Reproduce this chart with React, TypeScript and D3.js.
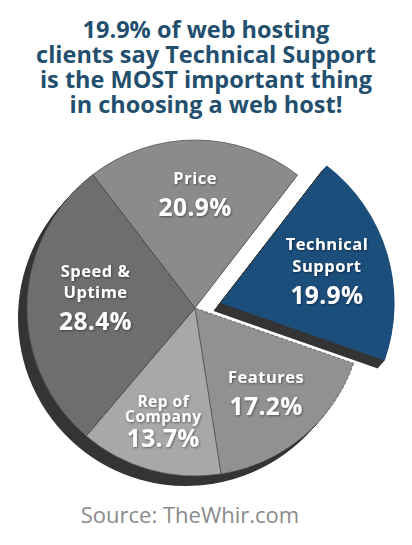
import React from "react";
import * as d3 from "d3";

// Survey results: what matters most when choosing a web host
const categories = ["Price", "Technical Support", "Features", "Rep of Company", "Speed & Uptime"];
const shares = [20.9, 19.9, 17.2, 13.7, 28.4];
const nameLines = [["Price"], ["Technical", "Support"], ["Features"], ["Rep of", "Company"], ["Speed &", "Uptime"]];
const highlighted = "Technical Support";

const titleLines = [
  "19.9% of web hosting",
  "clients say Technical Support",
  "is the MOST important thing",
  "in choosing a web host!",
];
const sourceText = "Source: TheWhir.com";

// Styling and layout
const W = 412;
const H = 545;
const sliceColors = ["#8b8b8b", "#1c4e7c", "#919191", "#a8a8a8", "#6e6e6e"];
const rimColor = "#353535";
const titleColor = "#234f6e";
const labelFont = "'Open Sans', 'DejaVu Sans', sans-serif";
// label distance from the pie centre and a small turn (radians) off the slice's mid-angle
const labelRadius: Record<string, number> = {
  "Price": 114,
  "Technical Support": 111,
  "Features": 111,
  "Rep of Company": 117,
  "Speed & Uptime": 100,
};
const labelTurn: Record<string, number> = {
  "Price": 0,
  "Technical Support": 0,
  "Features": 0,
  "Rep of Company": 0,
  "Speed & Uptime": 0.08,
};

export default function App() {
  const cx = 195;
  const cy = 308;
  const R = 168;
  const Rhi = 174;
  const explode = 26;
  const depth = { dx: -9, dy: 10, steps: 12 };
  const hiDepth = { dx: -7, dy: 8 };

  const start = (-37.5 * Math.PI) / 180;
  const pie = d3
    .pie<number>()
    .sort(null)
    .startAngle(start)
    .endAngle(start + 2 * Math.PI)
    .value((d) => d);
  const arcs = pie(shares);
  const arcMain = d3.arc<d3.PieArcDatum<number>>().innerRadius(0).outerRadius(R);
  const arcHi = d3.arc<d3.PieArcDatum<number>>().innerRadius(0).outerRadius(Rhi);

  const hiIndex = categories.indexOf(highlighted);
  const rest = arcs.filter((a) => a.index !== hiIndex);
  const hiArc = arcs[hiIndex];
  const hiDir = (hiArc.startAngle + hiArc.endAngle) / 2 + 0.1;
  const hiOff = [explode * Math.sin(hiDir), -explode * Math.cos(hiDir)];

  const steps = d3.range(depth.steps, 0, -1).map((k) => k / depth.steps);

  const label = (a: d3.PieArcDatum<number>) => {
    const name = categories[a.index];
    const r = labelRadius[name];
    const turn = labelTurn[name];
    const [lx, ly] = d3
      .arc<d3.PieArcDatum<number>>()
      .innerRadius(r)
      .outerRadius(r)
      .centroid({ ...a, startAngle: a.startAngle + turn, endAngle: a.endAngle + turn });
    const lines = nameLines[a.index];
    const compact = a.endAngle - a.startAngle < 0.9;
    const gap = compact ? 15.5 : 21.5;
    const first = lines.length === 1 ? -10 : compact ? -14 : -21;
    const valueY = first + (lines.length - 1) * gap + (compact ? 25 : 32);
    return (
      <g key={name} transform={`translate(${lx},${ly})`} filter="url(#lblShadow)" fill="#ffffff"
        fontFamily={labelFont} fontWeight={700} textAnchor="middle">
        {lines.map((t, i) => (
          <text key={t} y={first + i * gap} fontSize={compact ? 15.5 : 16.5} letterSpacing={0.5}>{t}</text>
        ))}
        <text y={valueY} fontSize={24.5} letterSpacing={0.4}>{`${shares[a.index].toFixed(1)}%`}</text>
      </g>
    );
  };

  return (
    <svg width={W} height={H} style={{ position: "absolute", left: 0, top: 0, background: "#ffffff" }}>
      <defs>
        <filter id="lblShadow" x="-20%" y="-20%" width="140%" height="140%">
          <feDropShadow dx="0.8" dy="1" stdDeviation="0.8" floodColor="#000" floodOpacity="0.45" />
        </filter>
      </defs>

      <g fontFamily={labelFont} fontWeight={700} fill={titleColor} textAnchor="middle">
        {titleLines.map((t, i) => (
          <text key={t} x={W / 2} y={38 + i * 25} fontSize={23.5}>{t}</text>
        ))}
      </g>

      <g transform={`translate(${cx},${cy})`}>
        {/* side of the pie */}
        {steps.map((s) => (
          <g key={`rim${s}`} transform={`translate(${s * depth.dx},${s * depth.dy})`}>
            {rest.map((a) => (
              <path key={a.index} d={arcMain(a) ?? ""} fill={rimColor} />
            ))}
          </g>
        ))}
        {/* top faces */}
        {rest.map((a) => (
          <path key={`f${a.index}`} d={arcMain(a) ?? ""} fill={sliceColors[a.index]}
            stroke="#4a4a4a" strokeWidth={0.7}
            strokeDasharray={categories[a.index] === "Features" ? "3 2" : undefined} />
        ))}

        {/* pulled-out slice */}
        <g transform={`translate(${hiOff[0]},${hiOff[1]})`}>
          {steps.map((s) => (
            <path key={`hr${s}`} d={arcHi(hiArc) ?? ""} fill={rimColor}
              transform={`translate(${s * hiDepth.dx},${s * hiDepth.dy})`} />
          ))}
          <path d={arcHi(hiArc) ?? ""} fill={sliceColors[hiIndex]} />
        </g>

        {rest.map((a) => label(a))}
        <g transform={`translate(${hiOff[0]},${hiOff[1]})`}>{label(hiArc)}</g>
      </g>

      <text x={190} y={523} textAnchor="middle" fontFamily={labelFont} fontSize={22} fill="#8a8a8a">
        {sourceText}
      </text>
    </svg>
  );
}
